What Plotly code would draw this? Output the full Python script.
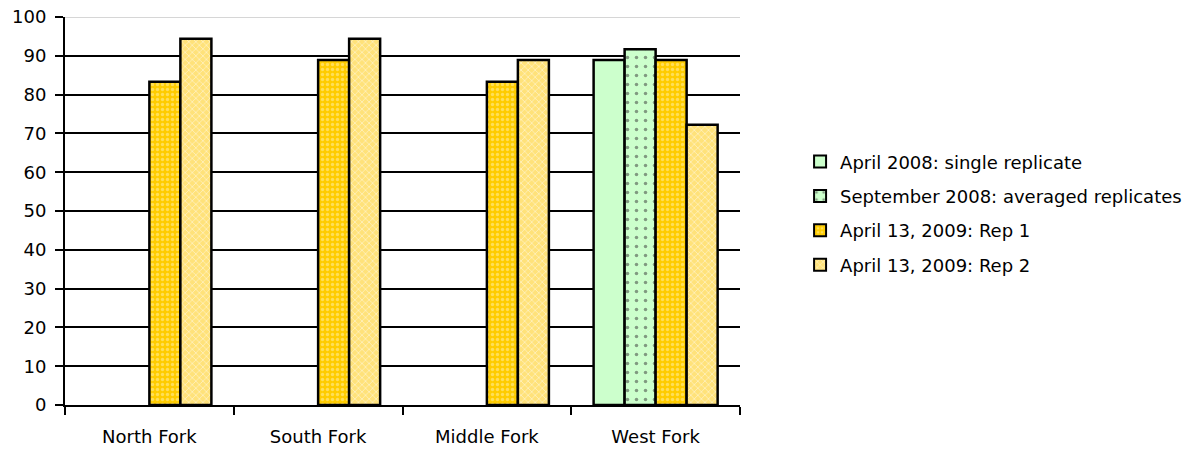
import plotly.graph_objects as go

categories = ["North Fork", "South Fork", "Middle Fork", "West Fork"]
series_names = [
    "April 2008: single replicate",
    "September 2008: averaged replicates",
    "April 13, 2009: Rep 1",
    "April 13, 2009: Rep 2",
]
april_2008 = [None, None, None, 88.9]
september_2008 = [None, None, None, 91.7]
april_2009_rep1 = [83.3, 88.9, 83.3, 88.9]
april_2009_rep2 = [94.4, 94.4, 88.9, 72.2]
y_ticks = [0, 10, 20, 30, 40, 50, 60, 70, 80, 90, 100]

FONT = "DejaVu Sans"

styles = [
    dict(color="#CCFFCC"),
    dict(color="#CCFFCC", pattern=dict(shape=".", fgcolor="#333333", bgcolor="#CCFFCC",
                                       size=9, solidity=0.12, fillmode="overlay")),
    dict(color="#FFCC00", pattern=dict(shape=".", fgcolor="#FFF2B0", bgcolor="#FFCC00",
                                       size=5, solidity=0.35, fillmode="overlay")),
    dict(color="#FFE27A", pattern=dict(shape="x", fgcolor="#FFFFFF", bgcolor="#FFE27A",
                                       size=5, solidity=0.3, fillmode="overlay")),
]

fig = go.Figure()
for i, (name, vals, st) in enumerate(zip(series_names,
                                         [april_2008, september_2008, april_2009_rep1, april_2009_rep2],
                                         styles)):
    marker = dict(line=dict(color="black", width=2.5), **st)
    fig.add_trace(go.Bar(x=categories, y=vals, name=name, marker=marker,
                         legendgroup=f"g{i}"))

# top gridline at 100 is drawn light gray
fig.add_shape(type="line", xref="paper", yref="y", x0=0, x1=1, y0=100, y1=100,
              line=dict(color="#C8C8C8", width=1.5), layer="above")

fig.update_layout(
    width=1198, height=451,
    margin=dict(l=65, r=458, t=17, b=46, autoexpand=False),
    paper_bgcolor="white", plot_bgcolor="white",
    barmode="group", bargap=0.265, bargroupgap=0,
    font=dict(family=FONT, size=17, color="black"),
    legend=dict(x=1.089, y=0.494, xanchor="left", yanchor="middle",
                font=dict(family=FONT, size=18), tracegroupgap=8,
                itemsizing="constant", traceorder="grouped"),
    xaxis=dict(showline=True, linecolor="black", linewidth=2, automargin=False,
               ticks="outside", ticklen=8, tickwidth=2, tickcolor="black",
               tickson="boundaries", showgrid=False, ticklabelstandoff=14,
               tickfont=dict(family=FONT, size=18)),
    yaxis=dict(range=[0, 100], tickvals=y_ticks, showline=True, linecolor="black",
               linewidth=2, ticks="outside", ticklen=8, tickwidth=2, tickcolor="black",
               showgrid=True, gridcolor="black", gridwidth=2, zeroline=False,
               automargin=False, ticklabelstandoff=5,
               tickfont=dict(family=FONT, size=18)),
)

fig.write_html("out.html")
